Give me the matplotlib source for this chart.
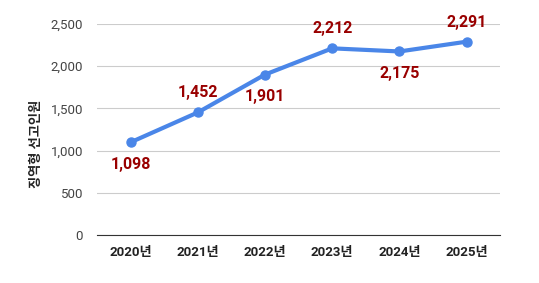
import matplotlib
matplotlib.use("Agg")
import matplotlib.pyplot as plt
from matplotlib.ticker import FuncFormatter

plt.rcParams['font.family'] = ['Roboto', 'Noto Sans CJK KR', 'DejaVu Sans']

# 데이터
years = ['2020년', '2021년', '2022년', '2023년', '2024년', '2025년']
counts = [1098, 1452, 1901, 2212, 2175, 2291]
label_above = [False, True, False, True, False, True]

fig = plt.figure(figsize=(5.39, 2.83), dpi=100)
ax = fig.add_axes([0.18, 0.17, 0.748, 0.745])

x = list(range(len(years)))
ax.plot(x, counts, color='#4a86e8', linewidth=3, marker='o', markersize=6.5, zorder=3,
        solid_capstyle='round')

for xi, v, up in zip(x, counts, label_above):
    ax.annotate(f'{v:,}', (xi, v), xytext=(0, 14 if up else -16), textcoords='offset points',
                ha='center', va='center', color='#990000', fontsize=11.5, fontweight='bold')

ax.set_xlim(-0.5, 5.5)
ax.set_ylim(0, 2500)
ax.set_yticks([0, 500, 1000, 1500, 2000, 2500])
ax.yaxis.set_major_formatter(FuncFormatter(lambda v, p: f'{int(v):,}'))
ax.set_xticks(x)
ax.set_xticklabels(years, fontweight='bold', fontsize=9.5, color='#222222')

ax.grid(axis='y', color='#cccccc', linewidth=0.8)
ax.set_axisbelow(True)
for s in ['top', 'right', 'left']:
    ax.spines[s].set_visible(False)
ax.spines['bottom'].set_color('#333333')
ax.tick_params(axis='both', length=0)
ax.tick_params(axis='y', labelsize=9.5, labelcolor='#444444', pad=10)
ax.tick_params(axis='x', pad=8)

ax.set_ylabel('징역형 선고인원', fontsize=9.5, fontweight='bold', color='#222222')
ax.yaxis.set_label_coords(-0.135, 0.43)

fig.savefig('out.png', dpi=100)
